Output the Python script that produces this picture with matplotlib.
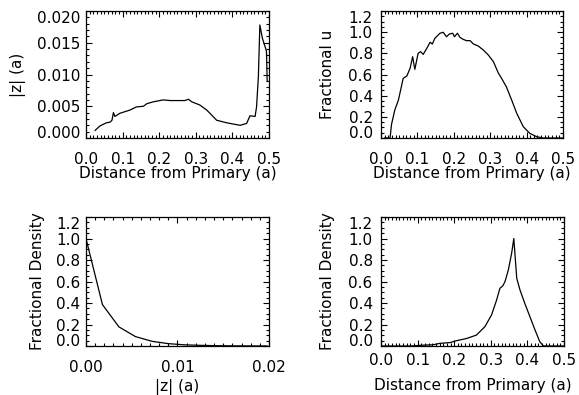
import numpy as np
import matplotlib
matplotlib.use("Agg")
import matplotlib.pyplot as plt
from matplotlib.ticker import MultipleLocator, FormatStrFormatter

# ===== DANE =====

# panel 1: |z| vs odległość od primary
dist_z = [0.025, 0.038, 0.056, 0.066, 0.071, 0.075, 0.079, 0.093, 0.120, 0.138,
          0.157, 0.166, 0.184, 0.211, 0.230, 0.248, 0.270, 0.280, 0.289, 0.311,
          0.330, 0.357, 0.384, 0.421, 0.439, 0.448, 0.462, 0.466, 0.471, 0.475,
          0.482, 0.493, 0.495]
abs_z = [0.0012, 0.0019, 0.0024, 0.0025, 0.0028, 0.0040, 0.0034, 0.0039, 0.0044, 0.0049,
         0.0050, 0.0054, 0.0057, 0.0060, 0.0059, 0.0059, 0.0059, 0.0061, 0.0057, 0.0052,
         0.0044, 0.0028, 0.0024, 0.0020, 0.0023, 0.0035, 0.0034, 0.0049, 0.0097, 0.0178,
         0.0157, 0.0137, 0.0090]

# panel 2: frakcja u
dist_u = [0.010, 0.025, 0.029, 0.038, 0.048, 0.054, 0.061, 0.071, 0.080, 0.087,
          0.093, 0.102, 0.109, 0.116, 0.126, 0.135, 0.141, 0.148, 0.162, 0.171,
          0.180, 0.188, 0.197, 0.202, 0.210, 0.217, 0.226, 0.235, 0.245, 0.254,
          0.267, 0.281, 0.295, 0.309, 0.322, 0.332, 0.345, 0.359, 0.373, 0.391,
          0.409, 0.428, 0.446, 0.470, 0.500]
frac_u = [0.000, 0.000, 0.130, 0.265, 0.360, 0.454, 0.564, 0.586, 0.659, 0.768,
          0.649, 0.800, 0.816, 0.790, 0.848, 0.905, 0.888, 0.942, 0.990, 0.999,
          0.957, 0.983, 0.990, 0.957, 0.990, 0.951, 0.932, 0.920, 0.920, 0.888,
          0.870, 0.832, 0.784, 0.721, 0.617, 0.560, 0.480, 0.359, 0.233, 0.107,
          0.044, 0.012, 0.000, 0.000, 0.000]

# panel 3: gęstość vs |z|
z_dens = [0.0000, 0.0018, 0.0036, 0.0054, 0.0072, 0.0090, 0.0108, 0.0126, 0.0144,
          0.0162, 0.0180, 0.0198]
dens_z = [1.000, 0.385, 0.178, 0.088, 0.044, 0.022, 0.011, 0.006, 0.003,
          0.0015, 0.0008, 0.0004]

# panel 4: gęstość vs odległość
dist_d = [0.000, 0.080, 0.116, 0.143, 0.161, 0.189, 0.207, 0.234, 0.261, 0.284,
          0.302, 0.316, 0.325, 0.333, 0.339, 0.348, 0.357, 0.363, 0.371, 0.380,
          0.393, 0.407, 0.421, 0.434, 0.443, 0.450, 0.500]
dens_d = [0.000, 0.000, 0.008, 0.012, 0.025, 0.032, 0.050, 0.070, 0.102, 0.180,
          0.288, 0.428, 0.537, 0.560, 0.600, 0.707, 0.862, 1.000, 0.630, 0.520,
          0.397, 0.273, 0.149, 0.040, 0.003, 0.000, 0.000]


# ===== HELPER =====

def style_axes(ax, xmaj, xmin, ymaj, ymin, xfmt, yfmt, xpad, ypad):
    ax.xaxis.set_major_locator(MultipleLocator(xmaj))
    ax.xaxis.set_minor_locator(MultipleLocator(xmin))
    ax.yaxis.set_major_locator(MultipleLocator(ymaj))
    ax.yaxis.set_minor_locator(MultipleLocator(ymin))
    ax.xaxis.set_major_formatter(FormatStrFormatter(xfmt))
    ax.yaxis.set_major_formatter(FormatStrFormatter(yfmt))
    ax.tick_params(which="both", direction="in", top=True, right=True, width=0.8)
    ax.tick_params(which="major", length=4)
    ax.tick_params(which="minor", length=2)
    ax.tick_params(axis="x", which="major", pad=xpad, labelsize=11)
    ax.tick_params(axis="y", which="major", pad=ypad, labelsize=11)
    for sp in ax.spines.values():
        sp.set_linewidth(0.9)


def squeeze_end_labels(ax):
    # IDL przesuwa skrajne etykiety osi y do środka
    fig.canvas.draw()
    labels = ax.get_yticklabels()
    lo, hi = ax.get_ylim()
    locs = ax.get_yticks()
    for loc, lab in zip(locs, labels):
        if abs(loc - lo) < 1e-9:
            lab.set_va("baseline")
        elif abs(loc - hi) < 1e-9:
            lab.set_va("top")


fig = plt.figure(figsize=(5.79, 3.95), dpi=100)
plt.rcParams["font.family"] = "DejaVu Sans"

ax1 = fig.add_axes([0.1485, 0.6506, 0.3161, 0.3215])
ax2 = fig.add_axes([0.658, 0.6506, 0.3143, 0.3215])
ax3 = fig.add_axes([0.1485, 0.124, 0.3161, 0.3266])
ax4 = fig.add_axes([0.658, 0.124, 0.316, 0.3266])

ax1.plot(dist_z, abs_z, color="black", lw=0.9)
ax1.set_xlim(0, 0.5)
ax1.set_ylim(0, 0.02)
style_axes(ax1, 0.1, 0.01, 0.005, 0.001, "%.1f", "%.3f", 10, 4)
ax1.set_xlabel("Distance from Primary (a)", fontsize=11)
ax1.set_ylabel("|z| (a)", fontsize=11)

ax2.plot(dist_u, frac_u, color="black", lw=0.9)
ax2.set_xlim(0, 0.5)
ax2.set_ylim(0, 1.2)
style_axes(ax2, 0.1, 0.01, 0.2, 0.05, "%.1f", "%.1f", 10, 6)
ax2.set_xlabel("Distance from Primary (a)", fontsize=11)
ax2.set_ylabel("Fractional u", fontsize=11)

ax3.plot(z_dens, dens_z, color="black", lw=0.9)
ax3.set_xlim(0, 0.02)
ax3.set_ylim(0, 1.2)
style_axes(ax3, 0.01, 0.001, 0.2, 0.05, "%.2f", "%.1f", 10, 4)
ax3.set_xlabel("|z| (a)", fontsize=11)
ax3.set_ylabel("Fractional Density", fontsize=11)

ax4.plot(dist_d, dens_d, color="black", lw=0.9)
ax4.set_xlim(0, 0.5)
ax4.set_ylim(0, 1.2)
style_axes(ax4, 0.1, 0.01, 0.2, 0.05, "%.1f", "%.1f", 5, 6)
ax4.set_xlabel("Distance from Primary (a)", fontsize=11)
ax4.set_ylabel("Fractional Density", fontsize=11)

# pozycje podpisów osi (ułamki osi)
ax1.yaxis.set_label_coords(-0.33, 0.5)
ax2.yaxis.set_label_coords(-0.253, 0.5)
ax3.yaxis.set_label_coords(-0.225, 0.5)
ax4.yaxis.set_label_coords(-0.251, 0.5)
ax1.xaxis.set_label_coords(0.5, -0.22)
ax2.xaxis.set_label_coords(0.5, -0.22)
ax3.xaxis.set_label_coords(0.5, -0.255)
ax4.xaxis.set_label_coords(0.5, -0.245)

for ax in (ax1, ax2, ax3, ax4):
    squeeze_end_labels(ax)

fig.savefig("out.png", dpi=100)
